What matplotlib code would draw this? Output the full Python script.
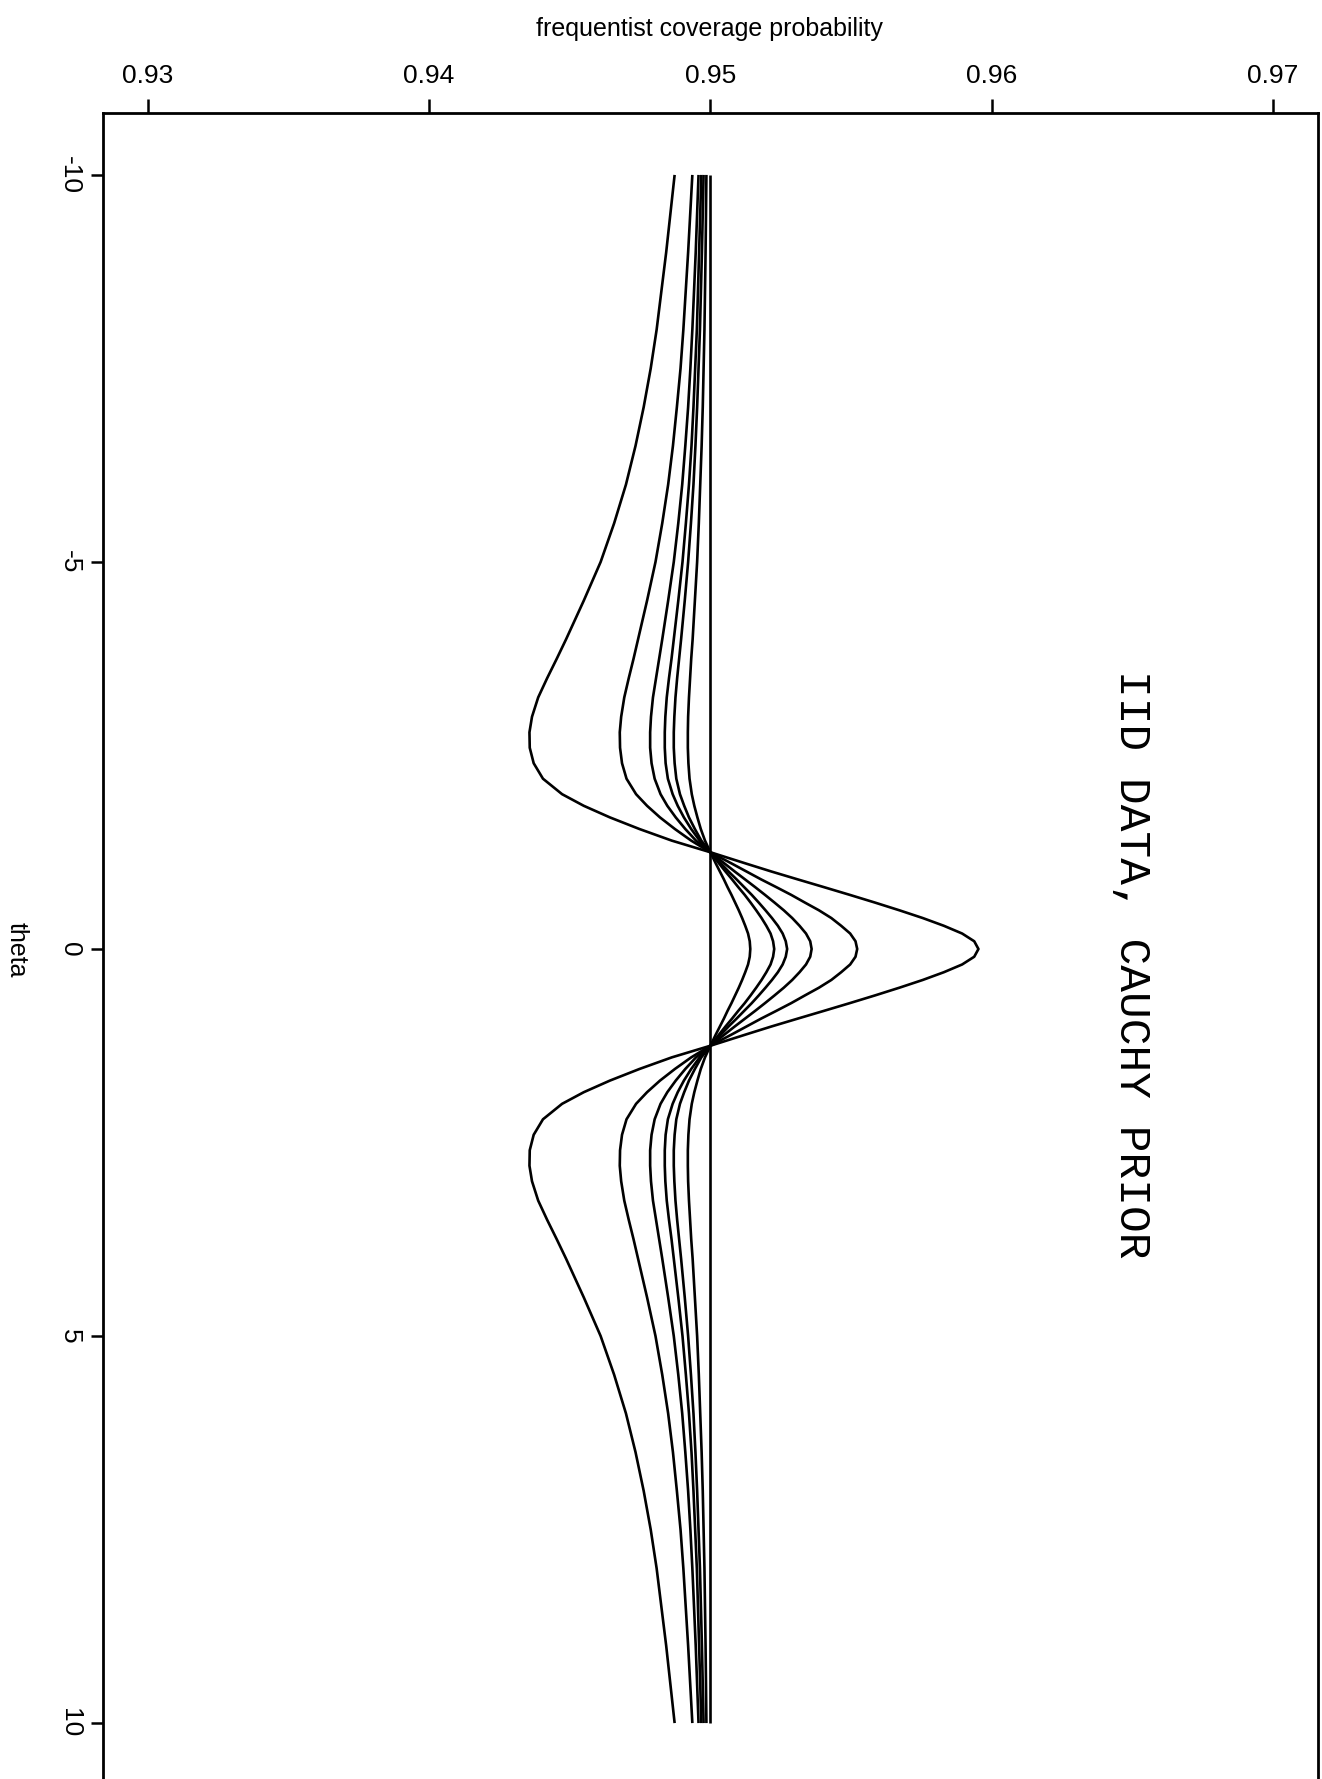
import matplotlib
matplotlib.use("Agg")
import matplotlib.pyplot as plt

# theta values (vertical axis of the rotated page)
theta_neg = [-10, -9, -8, -7.5, -7, -6.5, -6, -5.5, -5, -4.5, -4, -3.75, -3.5, -3.25, -3,
             -2.8, -2.6, -2.4, -2.2, -2, -1.85, -1.7, -1.55, -1.4, -1.25, -1.1, -1,
             -0.9, -0.8, -0.7, -0.6, -0.5, -0.4, -0.3, -0.2, -0.1]
theta_mid = [0]
theta_pos = [0.1, 0.2, 0.3, 0.4, 0.5, 0.6, 0.7, 0.8, 0.9, 1, 1.1, 1.25, 1.4, 1.55, 1.7,
             1.85, 2, 2.2, 2.4, 2.6, 2.8, 3, 3.25, 3.5, 3.75, 4, 4.5, 5, 5.5, 6, 6.5, 7,
             7.5, 8, 9, 10]
theta = theta_neg + theta_mid + theta_pos

cov_a = ([0.94873, 0.94843, 0.94809, 0.94788, 0.94763, 0.94734, 0.947, 0.94658, 0.9461, 0.9455,
          0.94487, 0.94454, 0.9442, 0.94388, 0.94366, 0.94357, 0.94358, 0.94372, 0.94405, 0.94473,
          0.9455, 0.94643, 0.94748, 0.94863, 0.95, 0.9513, 0.95218, 0.9531, 0.95403, 0.95495,
          0.95585, 0.95672, 0.95755, 0.9583, 0.95895, 0.95938]
         + [0.95953]
         + [0.95938, 0.95895, 0.9583, 0.95755, 0.95672, 0.95585, 0.95495, 0.95403, 0.9531, 0.95218,
            0.9513, 0.95, 0.94863, 0.94748, 0.94643, 0.9455, 0.94473, 0.94405, 0.94372, 0.94358,
            0.94357, 0.94366, 0.94388, 0.9442, 0.94454, 0.94487, 0.9455, 0.9461, 0.94658, 0.947,
            0.94734, 0.94763, 0.94788, 0.94809, 0.94843, 0.94873])

cov_b = ([0.94936, 0.94921, 0.94904, 0.94894, 0.94881, 0.94867, 0.9485, 0.94829, 0.94805, 0.94775,
          0.94743, 0.94727, 0.9471, 0.94694, 0.94683, 0.94678, 0.94679, 0.94686, 0.94702, 0.94736,
          0.94775, 0.94821, 0.94874, 0.94932, 0.95, 0.95078, 0.95129, 0.9518, 0.95234, 0.95287,
          0.95336, 0.95386, 0.9543, 0.95465, 0.95497, 0.95516]
         + [0.95522]
         + [0.95516, 0.95497, 0.95465, 0.9543, 0.95386, 0.95336, 0.95287, 0.95234, 0.9518, 0.95129,
            0.95078, 0.95, 0.94932, 0.94874, 0.94821, 0.94775, 0.94736, 0.94702, 0.94686, 0.94679,
            0.94678, 0.94683, 0.94694, 0.9471, 0.94727, 0.94743, 0.94775, 0.94805, 0.94829, 0.9485,
            0.94867, 0.94881, 0.94894, 0.94904, 0.94921, 0.94936])

cov_c = ([0.94958, 0.94948, 0.94936, 0.94929, 0.94921, 0.94911, 0.949, 0.94886, 0.9487, 0.9485,
          0.94829, 0.94818, 0.94807, 0.94796, 0.94789, 0.94786, 0.94786, 0.94791, 0.94802, 0.94823,
          0.94847, 0.94877, 0.94911, 0.94949, 0.95, 0.95052, 0.95087, 0.95123, 0.95159, 0.95194,
          0.95228, 0.95261, 0.95291, 0.95317, 0.9534, 0.95355]
         + [0.9536]
         + [0.95355, 0.9534, 0.95317, 0.95291, 0.95261, 0.95228, 0.95194, 0.95159, 0.95123, 0.95087,
            0.95052, 0.95, 0.94949, 0.94911, 0.94877, 0.94847, 0.94823, 0.94802, 0.94791, 0.94786,
            0.94786, 0.94789, 0.94796, 0.94807, 0.94818, 0.94829, 0.9485, 0.9487, 0.94886, 0.949,
            0.94911, 0.94921, 0.94929, 0.94936, 0.94948, 0.94958])

cov_d = ([0.94968, 0.9496, 0.94952, 0.94946, 0.9494, 0.94933, 0.94924, 0.94913, 0.94901, 0.94886,
          0.9487, 0.94862, 0.94853, 0.94845, 0.9484, 0.94838, 0.94838, 0.94841, 0.94849, 0.94866,
          0.94884, 0.94906, 0.94932, 0.94962, 0.95, 0.95039, 0.95065, 0.95093, 0.9512, 0.95147,
          0.95172, 0.95196, 0.95219, 0.9524, 0.95257, 0.95268]
         + [0.95273]
         + [0.95268, 0.95257, 0.9524, 0.95219, 0.95196, 0.95172, 0.95147, 0.9512, 0.95093, 0.95065,
            0.95039, 0.95, 0.94962, 0.94932, 0.94906, 0.94884, 0.94866, 0.94849, 0.94841, 0.94838,
            0.94838, 0.9484, 0.94845, 0.94853, 0.94862, 0.9487, 0.94886, 0.94901, 0.94913, 0.94924,
            0.94933, 0.9494, 0.94946, 0.94952, 0.9496, 0.94968])

cov_e = ([0.94976, 0.9497, 0.94963, 0.94958, 0.94953, 0.94947, 0.9494, 0.94931, 0.94921, 0.94909,
          0.94896, 0.94889, 0.94882, 0.94876, 0.94872, 0.9487, 0.9487, 0.94873, 0.94879, 0.94892,
          0.94907, 0.94924, 0.94945, 0.94968, 0.95, 0.95032, 0.95054, 0.95077, 0.95099, 0.95122,
          0.95143, 0.95163, 0.95182, 0.95199, 0.95214, 0.95223]
         + [0.95227]
         + [0.95223, 0.95214, 0.95199, 0.95182, 0.95163, 0.95143, 0.95122, 0.95099, 0.95077, 0.95054,
            0.95032, 0.95, 0.94968, 0.94945, 0.94924, 0.94907, 0.94892, 0.94879, 0.94873, 0.9487,
            0.9487, 0.94872, 0.94876, 0.94882, 0.94889, 0.94896, 0.94909, 0.94921, 0.94931, 0.9494,
            0.94947, 0.94953, 0.94958, 0.94963, 0.9497, 0.94976])

cov_f = ([0.94986, 0.94983, 0.94979, 0.94976, 0.94973, 0.94969, 0.94964, 0.94959, 0.94953, 0.94945,
          0.94937, 0.94932, 0.94928, 0.94924, 0.94921, 0.9492, 0.9492, 0.94922, 0.94926, 0.94934,
          0.94943, 0.94954, 0.94966, 0.94981, 0.95, 0.9502, 0.95034, 0.95048, 0.95061, 0.95075,
          0.95088, 0.95101, 0.95113, 0.95124, 0.95134, 0.9514]
         + [0.95142]
         + [0.9514, 0.95134, 0.95124, 0.95113, 0.95101, 0.95088, 0.95075, 0.95061, 0.95048, 0.95034,
            0.9502, 0.95, 0.94981, 0.94966, 0.94954, 0.94943, 0.94934, 0.94926, 0.94922, 0.9492,
            0.9492, 0.94921, 0.94924, 0.94928, 0.94932, 0.94937, 0.94945, 0.94953, 0.94959, 0.94964,
            0.94969, 0.94973, 0.94976, 0.94979, 0.94983, 0.94986])

nominal_theta = [-10, 10]
nominal_cov = [0.95, 0.95]

cov_ticks = [0.93, 0.94, 0.95, 0.96, 0.97]
cov_ticklabels = ["0.93", "0.94", "0.95", "0.96", "0.97"]
theta_ticks = [-10, -5, 0, 5, 10]
theta_ticklabels = ["-10", "-5", "0", "5", "10"]

title_text = "IID DATA, CAUCHY PRIOR"
cov_label = "frequentist coverage probability"
theta_label = "theta"

W, H = 1322, 1779
fig = plt.figure(figsize=(W / 100, H / 100), dpi=100)
fig.patch.set_facecolor("white")

left_px, right_px, top_px, bottom_px = 102.7, 1318, 113, 1785
ax = fig.add_axes([left_px / W, (H - bottom_px) / H,
                   (right_px - left_px) / W, (bottom_px - top_px) / H])

lw = 1.9
for cov in [cov_a, cov_b, cov_c, cov_d, cov_e, cov_f]:
    ax.plot(cov, theta, color="black", lw=lw, solid_joinstyle="round",
            solid_capstyle="butt")
ax.plot(nominal_cov, nominal_theta, color="black", lw=lw, solid_capstyle="butt")

ax.set_xlim(0.9284, 0.9716)
ax.set_ylim(10.8, -10.8)

ax.xaxis.tick_top()
ax.set_xticks(cov_ticks)
ax.set_xticklabels(cov_ticklabels, family="Liberation Sans", fontsize=19)
ax.set_yticks(theta_ticks)
ax.set_yticklabels(theta_ticklabels, family="Liberation Sans", fontsize=19,
                   rotation=-90, va="center", ha="right")
ax.tick_params(axis="x", which="major", direction="out", length=10, width=1.8, pad=8)
ax.tick_params(axis="y", which="major", direction="out", length=9, width=1.8, pad=6)
for s in ax.spines.values():
    s.set_linewidth(2.0)

fig.text(709 / W, 1 - 29 / H, cov_label, family="Liberation Sans", fontsize=18,
         ha="center", va="center")
fig.text(17 / W, 1 - 950 / H, theta_label, family="Liberation Sans", fontsize=18,
         rotation=-90, ha="center", va="center")
fig.text(1131 / W, 1 - 964 / H, title_text, family="Liberation Mono", fontsize=32,
         rotation=-90, ha="center", va="center")

fig.savefig("out.png", dpi=100)
